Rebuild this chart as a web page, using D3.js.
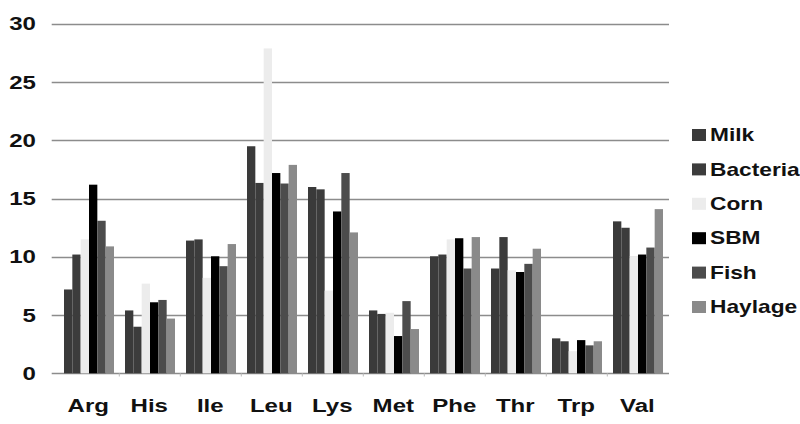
<!DOCTYPE html>
<html><head><meta charset="utf-8">
<script src="https://cdn.jsdelivr.net/npm/d3@7"></script>
<style>body{margin:0;background:#fff}svg{display:block}</style>
</head><body>
<svg id="c" width="800" height="424"></svg>
<script>
const categories = ["Arg","His","Ile","Leu","Lys","Met","Phe","Thr","Trp","Val"];
const seriesNames = ["Milk","Bacteria","Corn","SBM","Fish","Haylage"];
const milk     = [7.2, 5.4, 11.4, 19.5, 16.0, 5.4, 10.05, 9.0, 3.0, 13.05];
const bacteria = [10.2, 4.0, 11.5, 16.35, 15.8, 5.1, 10.2, 11.7, 2.75, 12.5];
const corn     = [11.5, 7.7, 8.2, 27.9, 7.1, 5.2, 11.5, 8.85, 1.9, 10.05];
const sbm      = [16.2, 6.1, 10.05, 17.2, 13.9, 3.2, 11.6, 8.7, 2.85, 10.2];
const fish     = [13.1, 6.3, 9.2, 16.3, 17.2, 6.2, 9.0, 9.4, 2.4, 10.8];
const haylage  = [10.9, 4.7, 11.1, 17.9, 12.1, 3.8, 11.7, 10.7, 2.75, 14.1];
const yTicks = [0,5,10,15,20,25,30];
const colors = ["#3a3a3a","#3c3c3c","#ececec","#000000","#4c4c4c","#8a8a8a"];
const seriesValues = [milk, bacteria, corn, sbm, fish, haylage];

const svg = d3.select("#c");
const font = "'Liberation Sans', Arial, sans-serif";
const SX = 1.3;
const x = d3.scaleBand().domain(categories).range([58.3, 668.3]).paddingInner(0).paddingOuter(0);
const y = d3.scaleLinear().domain([0,30]).range([373.3, 24]);
const x1 = d3.scaleBand().domain(seriesNames).range([5.7, 55.7]);

// gridlines
svg.append("g").selectAll("line").data(yTicks).join("line")
  .attr("x1", 51.7).attr("x2", 669)
  .attr("y1", d => Math.round(y(d)) + 0.5).attr("y2", d => Math.round(y(d)) + 0.5)
  .attr("stroke", "#8c8c8c").attr("stroke-width", 1.3);

// y labels
svg.append("g").selectAll("text").data(yTicks).join("text")
  .attr("transform", d => `translate(36,${y(d)}) scale(${SX},1)`)
  .attr("dy", "0.35em")
  .attr("text-anchor", "end").attr("font-family", font).attr("font-weight", "bold")
  .attr("font-size", 18.5).attr("fill", "#111").text(d => d);

// bars
const groups = svg.append("g").selectAll("g").data(categories).join("g")
  .attr("transform", c => `translate(${x(c)},0)`);
groups.selectAll("rect").data((c, i) => seriesNames.map((s, k) => ({s, k, v: seriesValues[k][i]})))
  .join("rect")
  .attr("x", d => x1(d.s)).attr("width", x1.bandwidth())
  .attr("y", d => y(d.v)).attr("height", d => y(0) - y(d.v))
  .attr("fill", d => colors[d.k]);

// category tick marks
svg.append("g").selectAll("line").data(categories.slice(1)).join("line")
  .attr("x1", c => x(c)).attr("x2", c => x(c))
  .attr("y1", 373.3).attr("y2", 376.5).attr("stroke", "#bbb").attr("stroke-width", 1);

// x labels
svg.append("g").selectAll("text").data(categories).join("text")
  .attr("transform", c => `translate(${x(c) + x.bandwidth()/2 - 0.5},412) scale(${SX},1)`)
  .attr("text-anchor", "middle").attr("font-family", font).attr("font-weight", "bold")
  .attr("font-size", 18.5).attr("fill", "#111").text(c => c);

// legend
const lg = svg.append("g").selectAll("g").data(seriesNames).join("g")
  .attr("transform", (s, i) => `translate(692,${135 + i*34.4})`);
lg.append("rect").attr("x", 0).attr("y", -6).attr("width", 14).attr("height", 12)
  .attr("fill", (s, i) => colors[i]);
lg.append("text").attr("transform", `translate(18,0) scale(${SX},1)`).attr("dy", "0.35em")
  .attr("font-family", font).attr("font-weight", "bold").attr("font-size", 17.5)
  .attr("fill", "#111").text(s => s);
</script>
</body></html>
